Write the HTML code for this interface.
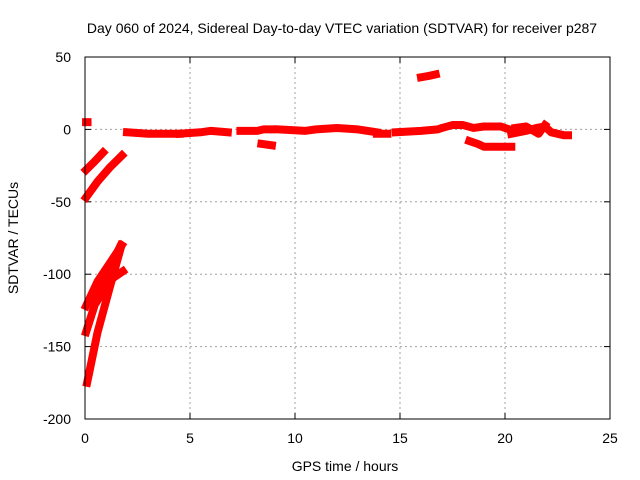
<!DOCTYPE html>
<html><head><meta charset="utf-8"><style>
body{margin:0;background:#fff;}
svg{display:block;font-family:"Liberation Sans",sans-serif;}
</style></head><body>
<svg id="chart" width="640" height="480">
<rect width="640" height="480" fill="#fff"/>
<text x="342" y="33" font-size="14" text-anchor="middle">Day 060 of 2024, Sidereal Day-to-day VTEC variation (SDTVAR) for receiver p287</text>
<g id="grid"></g>
<g id="ticks"></g>
<g id="series"></g>
<rect x="85" y="57" width="525" height="362" fill="none" stroke="#000" stroke-width="1"/>
<text x="345" y="471" font-size="14" text-anchor="middle">GPS time / hours</text>
<text x="18" y="238" font-size="14" text-anchor="middle" transform="rotate(-90 18 238)">SDTVAR / TECUs</text>
</svg>
<script>
const xTicks=[0,5,10,15,20,25];
const yTicks=[50,0,-50,-100,-150,-200];
const seg1=[[0.05,5],[0.12,5]];
const seg2=[[0.05,-28],[0.4,-23],[0.86,-16]];
const seg3=[[0.05,-47],[0.6,-36],[1.2,-26],[1.76,-18]];
const seg4=[[0.1,-175],[0.6,-140],[1.2,-108],[1.7,-82]];
const seg5=[[0.05,-140],[0.6,-115],[1.2,-95],[1.7,-80]];
const seg6=[[0.05,-122],[0.6,-105],[1.2,-92],[1.75,-80]];
const seg7=[[0.6,-118],[1.2,-104],[1.8,-98]];
const seg8=[[2.0,-2],[3,-3],[4,-3],[4.5,-3]];
const seg9=[[4.5,-3],[5.5,-2],[6,-1],[6.8,-2]];
const seg10=[[7.4,-1],[8.2,-1],[8.5,0],[8.9,0]];
const seg11=[[8.4,-10],[8.9,-11]];
const seg12=[[9.2,0],[10.5,-1],[11,0],[12,1],[13,0],[13.9,-2]];
const seg13=[[13.9,-3],[14.4,-3]];
const seg14=[[14.8,-2],[16,-1],[16.8,0],[17,1],[17.5,3],[18,3],[18.5,1],[19,2],[19.8,2],[20.2,0]];
const seg15=[[16,36],[16.4,37],[16.7,38]];
const seg16=[[18.3,-8],[18.7,-10],[19,-12],[20,-12],[20.3,-12]];
const seg17=[[20.3,-3],[21,-1],[21.5,1],[21.9,2],[22.2,-2],[22.8,-4],[23,-4]];
const seg18=[[20.5,1],[21,2],[21.6,-3],[21.9,3]];
const segments=[seg1,seg2,seg3,seg4,seg5,seg6,seg7,seg8,seg9,seg10,seg11,seg12,seg13,seg14,seg15,seg16,seg17,seg18];
const NS="http://www.w3.org/2000/svg";
const X=h=>85+h*21;
const Y=v=>57+(50-v)*362/250;
const grid=document.getElementById('grid'),ticks=document.getElementById('ticks'),series=document.getElementById('series');
function mk(tag,attrs,parent){const e=document.createElementNS(NS,tag);for(const k in attrs)e.setAttribute(k,attrs[k]);parent.appendChild(e);return e;}
xTicks.forEach(t=>{
 if(t>0&&t<25){const g=mk('line',{x1:X(t),x2:X(t),y1:57,y2:419,stroke:'#a0a0a0','stroke-dasharray':'2,3'},grid);
 
 }
 const tl=mk('text',{x:X(t),y:443,'font-size':14,'text-anchor':'middle'},ticks);tl.textContent=t;
 
 
 mk('line',{x1:X(t),x2:X(t),y1:419,y2:413,stroke:'#000'},ticks);
 mk('line',{x1:X(t),x2:X(t),y1:57,y2:63,stroke:'#000'},ticks);
});
yTicks.forEach(t=>{
 if(t<50&&t>-200){const g=mk('line',{x1:85,x2:610,y1:Y(t),y2:Y(t),stroke:'#a0a0a0','stroke-dasharray':'2,3'},grid);
 
 }
 const tl=mk('text',{x:71,y:Y(t)+5,'font-size':14,'text-anchor':'end'},ticks);tl.textContent=t;
 
 
 mk('line',{x1:85,x2:91,y1:Y(t),y2:Y(t),stroke:'#000'},ticks);
 mk('line',{x1:610,x2:604,y1:Y(t),y2:Y(t),stroke:'#000'},ticks);
});
segments.forEach(s=>{
 const p=mk('polyline',{points:s.map(d=>X(d[0])+','+Y(d[1])).join(' '),fill:'none',stroke:'#ff0000','stroke-width':8,'stroke-linejoin':'round','stroke-linecap':'square'},series);
 
 
});
</script>
</body></html>
